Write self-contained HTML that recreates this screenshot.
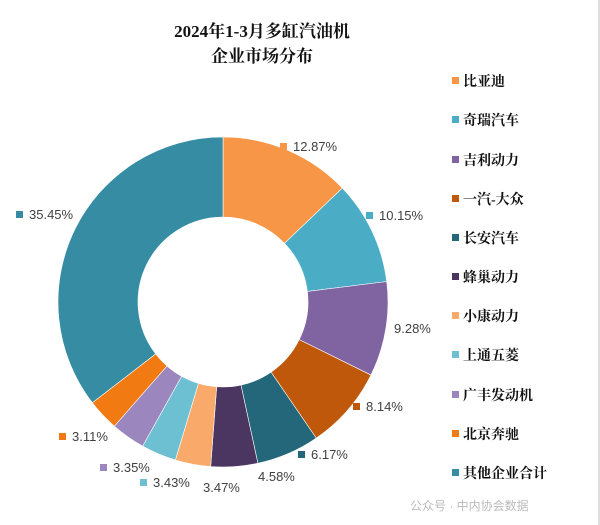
<!DOCTYPE html>
<html><head><meta charset="utf-8"><style>
body{margin:0;width:600px;height:525px;background:#fff;overflow:hidden;font-family:"Liberation Sans","Noto Sans CJK SC",sans-serif}
.t{position:absolute;width:524px;left:0;text-align:center;font-family:"Liberation Serif","Noto Serif CJK SC",serif;font-weight:bold;font-size:17px;color:#111}
.lg{position:absolute;left:452px;font-family:"Liberation Serif","Noto Serif CJK SC",serif;font-weight:bold;font-size:14px;color:#111;white-space:nowrap;line-height:16px}
.lg i{display:inline-block;width:7px;height:7px;margin-right:4px;vertical-align:middle;position:relative;top:-2px}
.lb{position:absolute;font-size:13px;color:#404040;white-space:nowrap;line-height:14px}
.lb i{display:inline-block;width:7px;height:7px;margin-right:6px;vertical-align:middle;position:relative;top:-1px}
</style></head><body>
<div style="position:absolute;right:0;top:0;width:2px;height:525px;background:#ddd"></div>
<div class="t" style="top:17px">2024年1-3月多缸汽油机</div>
<div class="t" style="top:42px">企业市场分布</div>
<svg id="s" width="600" height="525" style="position:absolute;left:0;top:0"></svg>
<div id="L"></div>
<div style="position:absolute;left:410px;top:497px;font-size:12px;color:#bbb">公众号 · 中内协会数据</div>
<script>
var v=[12.87,10.15,9.28,8.14,6.17,4.58,3.47,3.43,3.35,3.11,35.45];
var c=["#F79646","#4BACC6","#8064A2","#C0580B","#24677A","#4A3660","#F9A96A","#6DBFD2","#9C86BE","#F27A12","#358CA3"];
var n=["比亚迪","奇瑞汽车","吉利动力","一汽-大众","长安汽车","蜂巢动力","小康动力","上通五菱","广丰发动机","北京奔驰","其他企业合计"];
var cx=223,cy=302,R=165,r=85,a=0,h="";
function p(t,rr){return [cx+rr*Math.sin(t),cy-rr*Math.cos(t)];}
v.forEach(function(x,i){var b=a+x/100*2*Math.PI,l=(b-a)>Math.PI?1:0;
var A=p(a,R),B=p(b,R),C=p(b,r),D=p(a,r);
h+='<path d="M'+A+' A'+R+','+R+' 0 '+l+' 1 '+B+' L'+C+' A'+r+','+r+' 0 '+l+' 0 '+D+'Z" fill="'+c[i]+'" stroke="#fff" stroke-width="0.6"/>';a=b;});
document.getElementById("s").innerHTML=h;
var ly=[83,122,162,201,240,279,318,357,397,436,475],s="";
n.forEach(function(t,i){s+='<div class="lg" style="top:'+(ly[i]-8)+'px"><i style="background:'+c[i]+'"></i>'+t+'</div>';});
var lb=[[280,147,0],[366,216,1],[394,329,-1],[353,407,3],[298,455,4],[258,477,-1],[203,488,-1],[140,483,7],[100,468,8],[59,437,9],[16,215,10]];
lb.forEach(function(q,i){var t=v[i].toFixed(2)+"%";var mk=q[2]>=0?'<i style="background:'+c[q[2]]+'"></i>':'';
s+='<div class="lb" style="left:'+q[0]+'px;top:'+(q[1]-7)+'px">'+mk+t+'</div>';});
document.getElementById("L").innerHTML=s;
</script>
</body></html>
